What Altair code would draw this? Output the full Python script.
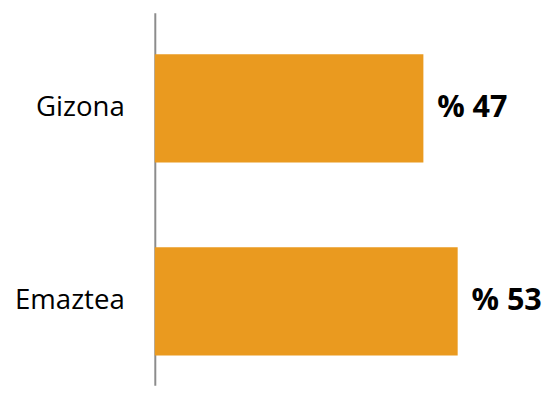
import altair as alt
import pandas as pd

categories = ["Gizona", "Emaztea"]
values = [47, 53]

df = pd.DataFrame({"cat": categories, "val": values})

y_enc = alt.Y(
    "cat:N",
    sort=categories,
    title=None,
    scale=alt.Scale(paddingInner=0.439, paddingOuter=0.184, align=0.583),
    axis=alt.Axis(
        ticks=False,
        domain=True,
        domainColor="#8c8c8c",
        domainWidth=2,
        labelFont="Open Sans",
        labelFontSize=28,
        labelColor="#000000",
        labelPadding=31,
        labelLimit=200,
    ),
)
x_enc = alt.X("val:Q", scale=alt.Scale(domain=[0, 60]), axis=None)

bars = alt.Chart(df).mark_bar(color="#EA9A1F").encode(x=x_enc, y=y_enc)

labels = (
    alt.Chart(df)
    .transform_calculate(lab="'% ' + datum.val")
    .mark_text(
        align="left",
        baseline="middle",
        dx=14,
        font="Open Sans",
        fontSize=31,
        fontWeight="bold",
        color="#000000",
    )
    .encode(x=x_enc, y=y_enc, text="lab:N")
)

chart = (
    alt.layer(bars, labels)
    .properties(
        width=348,
        height=378,
        autosize=alt.AutoSizeParams(type="none"),
        padding={"left": 149, "top": 2, "right": 46, "bottom": 0},
    )
    .configure_view(stroke=None)
)

chart.save("out.html", embed_options={"renderer": "svg", "actions": False})
